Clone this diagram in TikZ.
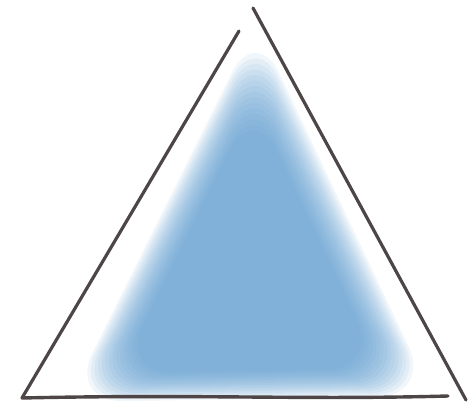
\documentclass[tikz,border=0pt]{standalone}
\usepackage{tikz}
\usetikzlibrary{calc}

\definecolor{icewater}{RGB}{88,152,204}
\definecolor{pencil}{RGB}{78,70,70}

\begin{document}
\begin{tikzpicture}[x=1pt,y=-1pt]
  \useasboundingbox (0,0) rectangle (469,410);
  % soft blue body
  \coordinate (M) at (248,300);
  \foreach \s in {1.00,0.98,...,0.70}
    \fill[icewater,opacity=0.09,rounded corners=55pt]
      ($(M)!\s!(256,24)$) -- ($(M)!\s!(68,402)$) -- ($(M)!\s!(432,396)$) -- cycle;
  % sides
  \coordinate (L0) at (22,398);
  \coordinate (L1) at (239,31);
  \coordinate (R0) at (253,8);
  \coordinate (R1) at (466,400);
  \coordinate (B1) at (448,396);
  \draw[pencil,line width=3.2pt,line cap=round] (L0)--(L1);
  \draw[pencil,line width=3.2pt,line cap=round] (R0)--(R1);
  \draw[pencil,line width=3.4pt,line cap=round] (L0) .. controls (200,394) and (300,400) .. (B1);
\end{tikzpicture}
\end{document}
